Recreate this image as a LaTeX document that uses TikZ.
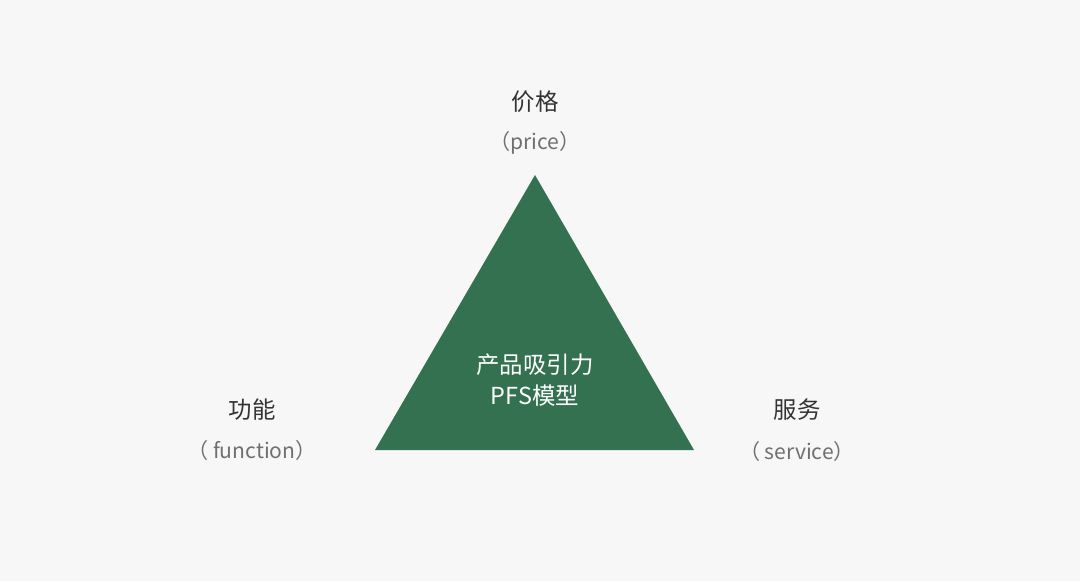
\documentclass[tikz,border=0pt]{standalone}
\usepackage{fontspec}
\setmainfont{Noto Sans CJK SC}
\definecolor{bg}{HTML}{F7F7F7}
\definecolor{tri}{HTML}{337150}
\definecolor{dark}{HTML}{333333}
\definecolor{grey}{HTML}{707070}
\begin{document}
\begin{tikzpicture}[x=0.03cm,y=-0.03cm,
  title/.style={font=\fontsize{20}{24}\selectfont,text=dark,inner sep=0},
  sub/.style={font=\fontsize{18}{22}\selectfont,text=grey,inner sep=0},
  inner/.style={font=\fontsize{20}{26}\selectfont,text=white,align=center,inner sep=0}]
\fill[bg] (0,0) rectangle (1080,581);
\useasboundingbox (0,0) rectangle (1080,581);
\coordinate (A) at (535,175);
\coordinate (B) at (375,450);
\coordinate (C) at (694,450);
\fill[tri] (A) -- (B) -- (C) -- cycle;
\node[title] (p) at (535,102) {价格};
\node[sub] (ps) at (535,143) {（price）};
\node[title] (f) at (252,410) {功能};
\node[sub] (fs) at (252,450) {（ function）};
\node[title] (s) at (797,410) {服务};
\node[sub] (ss) at (797,451) {（ service）};
\node[inner] (c) at (535,380) {产品吸引力\\PFS模型};
\end{tikzpicture}
\end{document}
